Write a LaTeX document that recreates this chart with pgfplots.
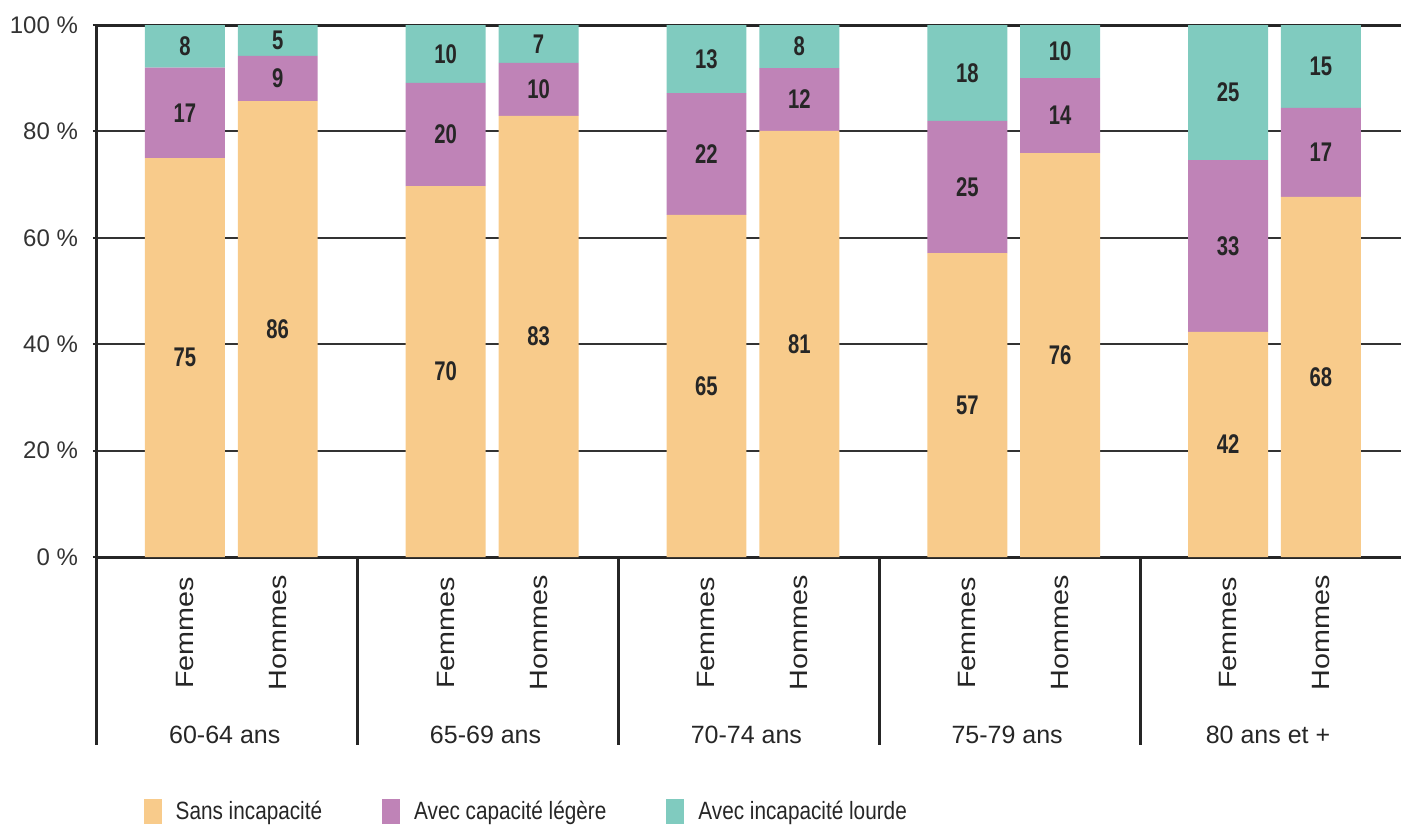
\documentclass[border=0pt]{standalone}
\usepackage{pgfplots}
\pgfplotsset{compat=1.18}
\usepackage{pgfplotstable}
\usepackage{fontspec}
\setmainfont{Liberation Sans}
\newfontfamily\valfont[FakeStretch=0.75]{Liberation Sans}
\newfontfamily\legfont[FakeStretch=0.83]{Liberation Sans}
\newfontfamily\widefont[FakeStretch=1.15]{Liberation Sans}
\definecolor{sans}{HTML}{F8CB8B}
\definecolor{leg}{HTML}{BF83B7}
\definecolor{lourd}{HTML}{80CBBF}

% bar heights, printed labels as published
\pgfplotstableread{
x     sans leg  lourd ls ll llo
0.337 75.0 17.0 8.0  75 17 8
0.693 85.7 8.5  5.8  86 9  5
1.337 69.7 19.4 10.9 70 20 10
1.693 82.9 10.0 7.1  83 10 7
2.337 64.3 22.9 12.8 65 22 13
2.693 80.1 11.8 8.1  81 12 8
3.337 57.1 24.9 18.0 57 25 18
3.693 75.9 14.1 10.0 76 14 10
4.337 42.3 32.3 25.4 42 33 25
4.693 67.7 16.7 15.6 68 17 15
}\datatable

\tikzset{
  grplab/.style={font=\fontsize{12.5}{14}\selectfont, text=black!85},
  sexlab/.style={rotate=90, font=\widefont\fontsize{12.5}{14}\selectfont, text=black!85},
  sep/.style={black!85, line width=1.5pt},
}

\begin{document}
\begin{tikzpicture}
\begin{axis}[
width=652pt, height=266pt, scale only axis,
xmin=0, xmax=5, ymin=0, ymax=100,
enlarge x limits=false,
ybar stacked, bar width=0.3065,
clip=false,
axis lines=left,
axis line style={-, line width=1.5pt, black!85},
xtick=\empty,
ytick={0,20,...,100},
yticklabels={0 \%,20 \%,40 \%,60 \%,80 \%,100 \%},
yticklabel style={font=\fontsize{12}{14}\selectfont, text=black!80, xshift=-4pt},
tick style={black!85, line width=1pt},
major tick length=2pt,
tick align=outside,
ymajorgrids,
grid style={black!80, line width=1pt},
point meta=explicit symbolic,
nodes near coords={\pgfplotspointmeta},
every node near coord/.append style={anchor=center, font=\valfont\bfseries\fontsize{13.5}{15}\selectfont, text=black!85},
legend image code/.code={\fill[#1] (0pt,-6.25pt) rectangle (9pt,6.25pt);},
legend style={draw=none, fill=none, legend columns=3, at={(0.0355,-0.479)}, anchor=west,
  font=\legfont\fontsize{12.5}{14}\selectfont, text=black!85, inner sep=0pt,
  /tikz/every odd column/.append style={column sep=5pt},
  /tikz/every even column/.append style={column sep=28pt}},
]
\addplot[fill=sans, draw=none] table[x=x, y=sans, meta=ls] {\datatable};
\addplot[fill=leg, draw=none] table[x=x, y=leg, meta=ll] {\datatable};
\addplot[fill=lourd, draw=none] table[x=x, y=lourd, meta=llo] {\datatable};
\legend{Sans incapacité, Avec capacité légère, Avec incapacité lourde}

\draw[sep] (axis cs:0,100) -- (axis cs:5,100);
\draw[sep] (axis cs:0,0) -- (axis cs:0,-35.34);
\draw[sep] (axis cs:1,0) -- (axis cs:1,-35.34);
\draw[sep] (axis cs:2,0) -- (axis cs:2,-35.34);
\draw[sep] (axis cs:3,0) -- (axis cs:3,-35.34);
\draw[sep] (axis cs:4,0) -- (axis cs:4,-35.34);

\node[grplab] at (axis cs:0.49,-33.46) {60-64 ans};
\node[grplab] at (axis cs:1.49,-33.46) {65-69 ans};
\node[grplab] at (axis cs:2.49,-33.46) {70-74 ans};
\node[grplab] at (axis cs:3.49,-33.46) {75-79 ans};
\node[grplab] at (axis cs:4.49,-33.46) {80 ans et +};

\node[sexlab] at (axis cs:0.337,-14.29) {Femmes};
\node[sexlab] at (axis cs:0.693,-14.29) {Hommes};
\node[sexlab] at (axis cs:1.337,-14.29) {Femmes};
\node[sexlab] at (axis cs:1.693,-14.29) {Hommes};
\node[sexlab] at (axis cs:2.337,-14.29) {Femmes};
\node[sexlab] at (axis cs:2.693,-14.29) {Hommes};
\node[sexlab] at (axis cs:3.337,-14.29) {Femmes};
\node[sexlab] at (axis cs:3.693,-14.29) {Hommes};
\node[sexlab] at (axis cs:4.337,-14.29) {Femmes};
\node[sexlab] at (axis cs:4.693,-14.29) {Hommes};

\coordinate (bl) at (rel axis cs:-0.07439,-0.5113);
\coordinate (tr) at (rel axis cs:1,1.047);
\end{axis}
\pgfresetboundingbox
\path[use as bounding box] (bl) rectangle (tr);
\end{tikzpicture}
\end{document}
